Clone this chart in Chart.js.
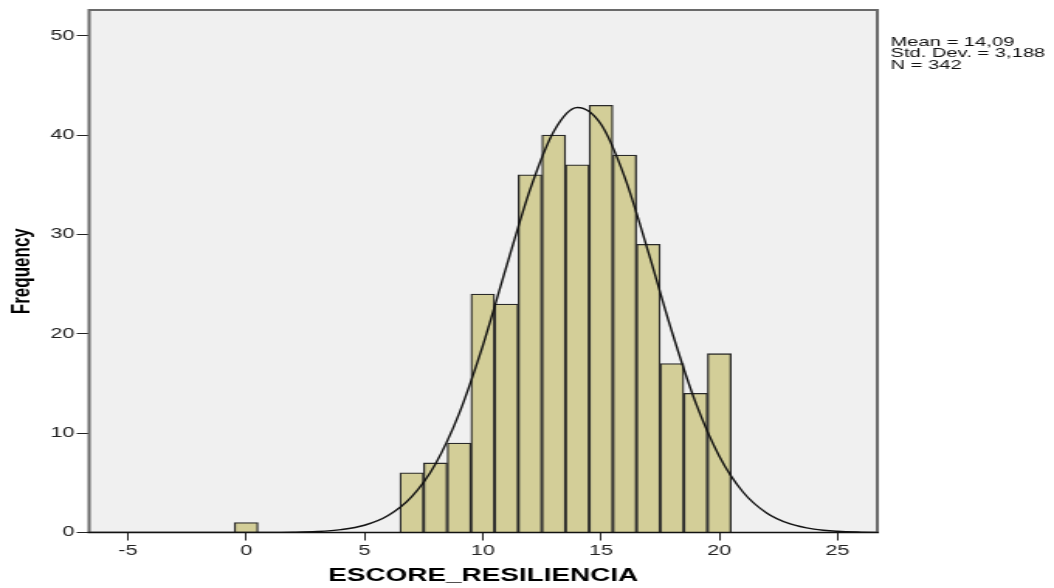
<!DOCTYPE html>
<html>
<head>
<meta charset="utf-8">
<title>ESCORE_RESILIENCIA</title>
<script src="https://cdn.jsdelivr.net/npm/chart.js@4.4.1/dist/chart.umd.min.js"></script>
<style>
  html, body { margin: 0; padding: 0; background: #ffffff; }
</style>
</head>
<body>
<canvas id="chart" width="680" height="588" style="display:block;width:1054px;height:588px;"></canvas>
<script>
// Histogram bins (bin width 1, centred on the integer scores)
const binCenters = [0, 7, 8, 9, 10, 11, 12, 13, 14, 15, 16, 17, 18, 19, 20];
const binCounts  = [1, 6, 7, 9, 24, 23, 36, 40, 37, 43, 38, 29, 17, 14, 18];

// Fitted normal curve, sampled at whole scores
const curveX = [-7, -6, -5, -4, -3, -2, -1, 0, 1, 2, 3, 4, 5, 6, 7, 8, 9, 10, 11, 12, 13,
                14, 15, 16, 17, 18, 19, 20, 21, 22, 23, 24, 25, 26, 27, 28];
const curveY = [0, 0, 0, 0, 0, 0, 0, 0, 0.01, 0.03, 0.10, 0.29, 0.73, 1.71, 3.61, 6.90, 11.97, 18.79,
                26.76, 34.52, 40.37, 42.78, 41.09, 35.77, 28.22, 20.18, 13.07, 7.68, 4.08, 1.97,
                0.86, 0.34, 0.12, 0.04, 0.01, 0];

// Axis ticks and summary lines
const xTicks = [-5, 0, 5, 10, 15, 20, 25];
const yTicks = [0, 10, 20, 30, 40, 50];
const statsLines = ['Mean = 14,09', 'Std. Dev. = 3,188', 'N = 342'];

const FONT = "'Liberation Sans', Arial, Helvetica, sans-serif";

// Grey plot background and the frame around it
const plotFrame = {
  id: 'plotFrame',
  beforeDatasetsDraw(chart) {
    const { ctx, chartArea: a } = chart;
    ctx.save();
    ctx.fillStyle = '#f0f0f0';
    ctx.fillRect(a.left, a.top, a.right - a.left, a.bottom - a.top);
    ctx.restore();
  },
  afterDatasetsDraw(chart) {
    const { ctx, chartArea: a } = chart;
    ctx.save();
    ctx.strokeStyle = '#6a6a6a';
    ctx.lineWidth = 2;
    ctx.beginPath();
    ctx.moveTo(a.left, a.bottom);
    ctx.lineTo(a.left, a.top);
    ctx.lineTo(a.right, a.top);
    ctx.lineTo(a.right, a.bottom);
    ctx.stroke();
    ctx.strokeStyle = '#111111';
    ctx.lineWidth = 1.5;
    ctx.beginPath();
    ctx.moveTo(a.left - 1, a.bottom);
    ctx.lineTo(a.right + 1, a.bottom);
    ctx.stroke();
    ctx.restore();
  }
};

// Summary statistics to the right of the plot
const statsBox = {
  id: 'statsBox',
  afterDraw(chart) {
    const { ctx, chartArea: a } = chart;
    ctx.save();
    ctx.font = '13px ' + FONT;
    ctx.fillStyle = '#111111';
    ctx.textAlign = 'left';
    ctx.textBaseline = 'alphabetic';
    statsLines.forEach((line, i) => {
      ctx.fillText(line, a.right + 8.5, a.top + 36 + i * 11.3);
    });
    ctx.restore();
  }
};

new Chart(document.getElementById('chart'), {
  type: 'bar',
  data: {
    datasets: [
      {
        type: 'line',
        order: 0,
        data: curveX.map((x, i) => ({ x, y: curveY[i] })),
        borderColor: '#111111',
        borderWidth: 1.4,
        pointRadius: 0,
        fill: false,
        cubicInterpolationMode: 'monotone'
      },
      {
        type: 'bar',
        order: 1,
        data: binCenters.map((x, i) => ({ x, y: binCounts[i] })),
        backgroundColor: '#d3ce98',
        borderColor: '#2a2a2a',
        borderWidth: 1.3,
        borderSkipped: 'start',
        categoryPercentage: 1,
        barPercentage: 1
      }
    ]
  },
  options: {
    responsive: false,
    devicePixelRatio: 1,
    animation: false,
    events: [],
    layout: { padding: { left: 0, right: 114, top: 9, bottom: 0 } },
    plugins: {
      legend: { display: false },
      tooltip: { enabled: false },
      title: { display: false }
    },
    scales: {
      x: {
        type: 'linear',
        min: -6.64,
        max: 26.68,
        offset: false,
        grid: {
          offset: false,
          drawOnChartArea: false,
          drawTicks: true,
          tickLength: 8,
          color: '#222222',
          lineWidth: 1
        },
        border: { display: false },
        afterBuildTicks(scale) {
          scale.ticks = xTicks.map(v => ({ value: v }));
        },
        ticks: {
          autoSkip: false,
          maxRotation: 0,
          padding: 2,
          color: '#222222',
          font: { family: FONT, size: 14 }
        },
        title: {
          display: true,
          text: 'ESCORE_RESILIENCIA',
          color: '#000000',
          font: { family: FONT, size: 18, weight: 'bold' },
          padding: { top: 0, bottom: 1 }
        },
        afterFit(scale) { scale.height = 55.5; }
      },
      y: {
        type: 'linear',
        min: 0,
        max: 52.6,
        grid: {
          drawOnChartArea: false,
          drawTicks: true,
          tickLength: 8,
          color: '#222222',
          lineWidth: 1
        },
        border: { display: false },
        afterBuildTicks(scale) {
          scale.ticks = yTicks.map(v => ({ value: v }));
        },
        ticks: {
          autoSkip: false,
          padding: 1.5,
          color: '#222222',
          font: { family: FONT, size: 14 }
        },
        title: {
          display: true,
          text: 'Frequency',
          color: '#000000',
          font: { family: FONT, size: 17, weight: 'bold' },
          padding: { top: 4, bottom: 0 }
        },
        afterFit(scale) { scale.width = 57.5; }
      }
    }
  },
  plugins: [plotFrame, statsBox]
});
</script>
</body>
</html>
